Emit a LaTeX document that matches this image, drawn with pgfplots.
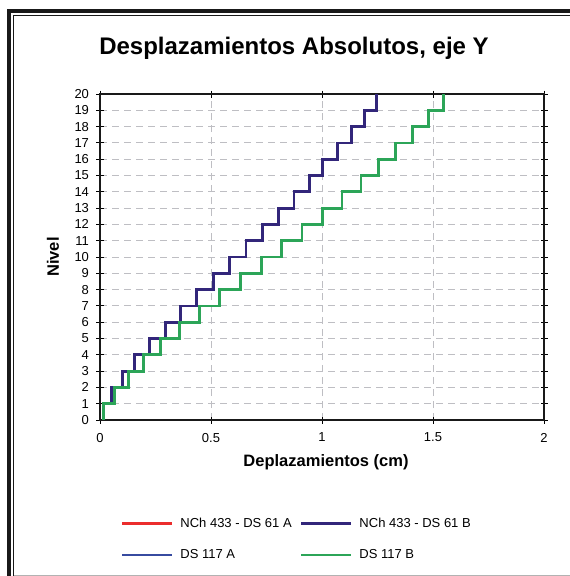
\documentclass[border=0pt]{standalone}
\usepackage{pgfplots}
\pgfplotsset{compat=1.18}
\usepackage{fontspec}
\setmainfont{Liberation Sans}
\definecolor{cred}{RGB}{235,45,45}
\definecolor{cnavy}{RGB}{50,38,122}
\definecolor{cblue}{RGB}{55,75,160}
\definecolor{cgreen}{RGB}{44,165,88}
\definecolor{cgrid}{RGB}{190,190,195}
\begin{document}
\begin{tikzpicture}
\useasboundingbox (0pt,0pt) rectangle (570pt,-576pt);
\clip (0pt,0pt) rectangle (570pt,-576pt);
% frame
\draw[line width=4pt,black!90] (9pt,-590pt) -- (9pt,-11pt) -- (590pt,-11pt);
\draw[line width=1.2pt,black!90] (13.5pt,-590pt) -- (13.5pt,-15.6pt) -- (590pt,-15.6pt);
\draw[line width=1pt,black!30] (14pt,-575.5pt) -- (590pt,-575.5pt);
% title
\node[font=\bfseries\fontsize{24}{28}\selectfont] at (294pt,-48pt) {Desplazamientos Absolutos, eje Y};
\begin{axis}[
  at={(100pt,-420pt)}, anchor=south west,
  width=444pt, height=326pt, scale only axis,
  xmin=0, xmax=2, ymin=0, ymax=20,
  xtick={0,0.5,1,1.5,2},
  xticklabels={0,0.5,1,1.5,2},
  ytick={0,1,...,20},
  tick align=center, major tick length=7pt,
  tick style={line width=1pt,black},
  axis line style={line width=2pt,black!90},
  grid=major,
  major grid style={cgrid,line width=1pt,dash pattern=on 7pt off 5pt},
  ticklabel style={font=\fontsize{13}{15}\selectfont},
  /pgf/number format/assume math mode=true,
  xticklabel style={yshift=-6pt},
  yticklabel style={xshift=-4pt},
  xlabel={\bfseries Deplazamientos (cm)},
  ylabel={\bfseries Nivel},
  xlabel style={font=\fontsize{16.5}{19}\selectfont, at={(axis description cs:0.5,0)}, anchor=center, yshift=-42pt, xshift=4pt},
  ylabel style={font=\fontsize{16.5}{19}\selectfont, at={(axis description cs:0,0.5)}, anchor=center, rotate=0, yshift=47pt},
  legend columns=2,
  legend style={at={(axis description cs:0.046,-0.293)}, anchor=north west, draw=none, fill=none,
    font=\fontsize{13}{15}\selectfont, row sep=17pt, inner sep=0pt,
    /tikz/every odd column/.append style={column sep=5pt},
    /tikz/every even column/.append style={column sep=6pt}},
  legend cell align=left,
  legend image code/.code={\draw[#1,line width=2.8pt] (0pt,0pt) -- (50pt,0pt);},
  every axis plot/.append style={line width=2.8pt, line join=miter},
]
% NCh 433 - DS 61 A
\addplot[cred] coordinates {
(0.014,0)(0.014,1)(0.053,1)(0.053,2)(0.101,2)(0.101,3)(0.157,3)(0.157,4)(0.224,4)(0.224,5)
(0.294,5)(0.294,6)(0.361,6)(0.361,7)(0.435,7)(0.435,8)(0.510,8)(0.510,9)(0.585,9)(0.585,10)
(0.658,10)(0.658,11)(0.732,11)(0.732,12)(0.805,12)(0.805,13)(0.874,13)(0.874,14)(0.942,14)(0.942,15)
(1.004,15)(1.004,16)(1.071,16)(1.071,17)(1.133,17)(1.133,18)(1.190,18)(1.190,19)(1.244,19)(1.244,20)};
\addlegendentry{NCh 433 - DS 61 A}
% NCh 433 - DS 61 B
\addplot[cnavy] coordinates {
(0.014,0)(0.014,1)(0.053,1)(0.053,2)(0.101,2)(0.101,3)(0.157,3)(0.157,4)(0.224,4)(0.224,5)
(0.294,5)(0.294,6)(0.361,6)(0.361,7)(0.435,7)(0.435,8)(0.510,8)(0.510,9)(0.585,9)(0.585,10)
(0.658,10)(0.658,11)(0.732,11)(0.732,12)(0.805,12)(0.805,13)(0.874,13)(0.874,14)(0.942,14)(0.942,15)
(1.004,15)(1.004,16)(1.071,16)(1.071,17)(1.133,17)(1.133,18)(1.190,18)(1.190,19)(1.244,19)(1.244,20)};
\addlegendentry{NCh 433 - DS 61 B}
% DS 117 A
\addplot[cblue] coordinates {
(0.017,0)(0.017,1)(0.066,1)(0.066,2)(0.127,2)(0.127,3)(0.196,3)(0.196,4)(0.274,4)(0.274,5)
(0.357,5)(0.357,6)(0.447,6)(0.447,7)(0.538,7)(0.538,8)(0.632,8)(0.632,9)(0.726,9)(0.726,10)
(0.819,10)(0.819,11)(0.910,11)(0.910,12)(1.001,12)(1.001,13)(1.090,13)(1.090,14)(1.176,14)(1.176,15)
(1.256,15)(1.256,16)(1.331,16)(1.331,17)(1.407,17)(1.407,18)(1.479,18)(1.479,19)(1.547,19)(1.547,20)};
\addlegendentry{DS 117 A}
% DS 117 B
\addplot[cgreen] coordinates {
(0.017,0)(0.017,1)(0.066,1)(0.066,2)(0.127,2)(0.127,3)(0.196,3)(0.196,4)(0.274,4)(0.274,5)
(0.357,5)(0.357,6)(0.447,6)(0.447,7)(0.538,7)(0.538,8)(0.632,8)(0.632,9)(0.726,9)(0.726,10)
(0.819,10)(0.819,11)(0.910,11)(0.910,12)(1.001,12)(1.001,13)(1.090,13)(1.090,14)(1.176,14)(1.176,15)
(1.256,15)(1.256,16)(1.331,16)(1.331,17)(1.407,17)(1.407,18)(1.479,18)(1.479,19)(1.547,19)(1.547,20)};
\addlegendentry{DS 117 B}
\end{axis}
\end{tikzpicture}
\end{document}
